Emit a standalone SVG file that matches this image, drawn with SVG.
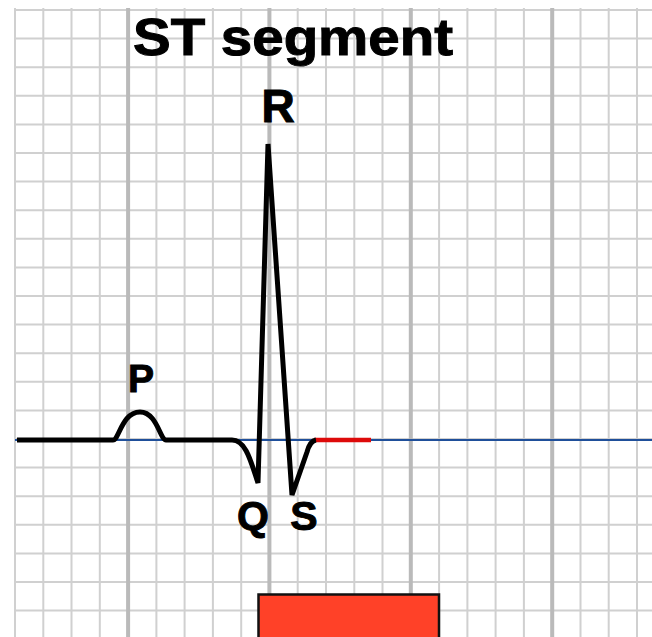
<svg xmlns="http://www.w3.org/2000/svg" width="652" height="637" viewBox="0 0 652 637">
<style>
.g{stroke:#d0d0d0;stroke-width:2;fill:none}
.gt{stroke:#bababa;stroke-width:4;fill:none}
.lbl{font-family:"Liberation Sans",Arial,sans-serif;font-weight:bold;fill:#000;stroke:#000;stroke-width:1;text-anchor:middle}
</style>
<rect width="652" height="637" fill="#fff"/>
<g id="grid">
<path class="g" d="M15,8V637M43.3,8V637M71.5,8V637M99.8,8V637M156.4,8V637M184.6,8V637M212.9,8V637M241.2,8V637M297.7,8V637M326,8V637M354.3,8V637M382.5,8V637M439.1,8V637M467.4,8V637M495.6,8V637M523.9,8V637M580.5,8V637M608.7,8V637M637,8V637"/>
<path class="g" d="M15,10H652M15,38.6H652M15,67.2H652M15,95.8H652M15,124.4H652M15,153H652M15,181.6H652M15,210.2H652M15,238.8H652M15,267.4H652M15,296H652M15,324.6H652M15,353.2H652M15,381.8H652M15,410.4H652M15,439H652M15,467.6H652M15,496.2H652M15,524.8H652M15,553.4H652M15,582H652M15,610.6H652"/>
<path class="gt" d="M128.1,8V637M269.4,8V637M410.8,8V637M552.2,8V637"/>
</g>
<g id="baseline">
<line x1="15" y1="440" x2="652" y2="440" stroke="#1f4f9a" stroke-width="2"/>
<line x1="314" y1="440" x2="371" y2="440" stroke="#dd0a0a" stroke-width="4.5"/>
</g>
<g id="trace">
<path d="M17,440 L113,440 C119,440 122,412 140,412 C157,412 160,440 166,440 L232,440 C246,440 251,462 258,483 L268,144 L292,495 L307,452 Q310,441 316,440" fill="none" stroke="#000" stroke-width="5" stroke-linejoin="bevel"/>
</g>
<g id="title"><text class="lbl" x="293" y="55" font-size="52" textLength="320" lengthAdjust="spacingAndGlyphs" stroke-width="1.5">ST segment</text></g>
<g id="label-R"><text class="lbl" x="278" y="122" font-size="46">R</text></g>
<g id="label-P"><text class="lbl" x="141" y="392" font-size="39">P</text></g>
<g id="label-Q"><text class="lbl" x="253" y="530" font-size="41">Q</text></g>
<g id="label-S"><text class="lbl" x="304" y="530" font-size="41">S</text></g>
<g id="st-box"><rect x="258.5" y="594.5" width="180.5" height="50" fill="#ff4128" stroke="#111" stroke-width="2.5"/></g>
</svg>
